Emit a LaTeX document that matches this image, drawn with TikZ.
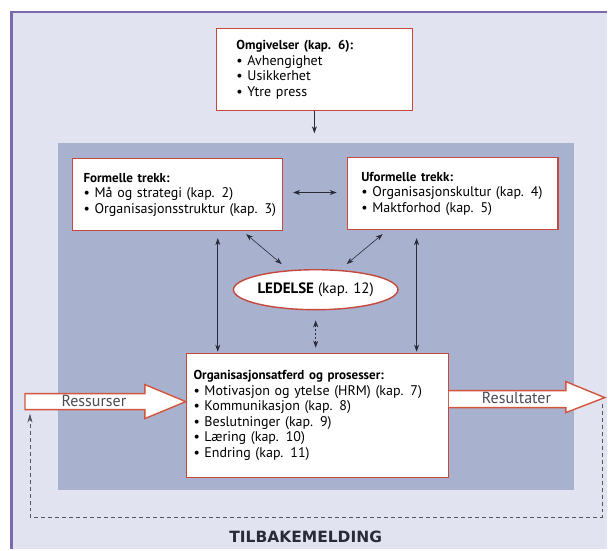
\documentclass[tikz,border=0pt]{standalone}
\usepackage{fontspec}
\setmainfont{PT Sans}
\newfontfamily\loopfont{DejaVu Sans}
\usetikzlibrary{arrows.meta,shapes.geometric,calc}

\definecolor{pagebg}{HTML}{E1E3F0}
\definecolor{panel}{HTML}{A8B1CE}
\definecolor{rim}{HTML}{7A69AC}
\definecolor{boxred}{HTML}{C4483C}
\definecolor{arrowred}{HTML}{D2553C}
\definecolor{ink}{HTML}{2B2B38}

% one bullet line and one heading line, kept on a single line each
\newcommand\bulletline[1]{\mbox{•\ #1}}
\newcommand\boxhead[1]{\mbox{\fontsize{13}{15.5}\selectfont\textbf{#1}}}

\begin{document}
\begin{tikzpicture}[x=1pt,y=-1pt,
  txt/.style={font=\fontsize{14}{15.5}\selectfont},
  box/.style={txt, draw=boxred, line width=1.4pt, fill=white, anchor=north west,
    align=left, inner ysep=0pt},
  link/.style={draw=ink, line width=0.6pt,
    {Stealth[length=7pt,width=5pt]}-{Stealth[length=7pt,width=5pt]}},
  onelink/.style={draw=ink, line width=0.6pt, -{Stealth[length=7pt,width=5pt]}},
  fatarrow/.style={draw=arrowred, line width=1.4pt, fill=white, line join=miter},
  arrowlabel/.style={font=\fontsize{16}{18}\selectfont, text=ink!85},
  feedback/.style={draw=ink!80, line width=0.6pt, dash pattern=on 4pt off 3pt,
    -{Stealth[length=9pt,width=5pt]}},
]
% page and panel
\fill[white] (0,0) rectangle (608,550);
\fill[pagebg] (11,12) rectangle (608,550);
\draw[rim, line width=1.2pt] (11,12) -- (608,12);
\draw[rim, line width=3pt] (11.5,11.4) -- (11.5,550);
\fill[panel] (58,143) rectangle (575,490);

% boxes
\node[box, minimum width=196pt, minimum height=82pt, inner xsep=20pt, text width=156pt]
  (omg) at (216,28)
  {\boxhead{Omgivelser (kap. 6):}\\ \bulletline{Avhengighet}\\ \bulletline{Usikkerhet}\\ \bulletline{Ytre press}};
\node[box, minimum width=210pt, minimum height=72pt, inner xsep=11pt, text width=188pt]
  (form) at (72,158)
  {\boxhead{Formelle trekk:}\\ \bulletline{Må og strategi (kap. 2)}\\ \bulletline{Organisasjonsstruktur (kap. 3)}};
\node[box, minimum width=211pt, minimum height=72pt, inner xsep=14pt, text width=183pt]
  (uform) at (347,157)
  {\boxhead{Uformelle trekk:}\\ \bulletline{Organisasjonskultur (kap. 4)}\\ \bulletline{Maktforhod (kap. 5)}};
\node[box, minimum width=262pt, minimum height=124pt, inner xsep=7pt, text width=248pt]
  (org) at (186,353)
  {\boxhead{Organisasjonsatferd og prosesser:}\\ \bulletline{Motivasjon og ytelse (HRM) (kap. 7)}\\
   \bulletline{Kommunikasjon (kap. 8)}\\ \bulletline{Beslutninger (kap. 9)}\\
   \bulletline{Læring (kap. 10)}\\ \bulletline{Endring (kap. 11)}};
\node[font=\fontsize{15}{17}\selectfont, ellipse, draw=boxred, line width=1.4pt, fill=white,
  minimum width=163pt, minimum height=40pt, inner sep=0pt] (led) at (316,290)
  {\textbf{LEDELSE} (kap. 12)};

% input and output arrows
\coordinate (intip) at ($(org.north west)+(0,49)$);
\draw[fatarrow] (intip) -- ++(-41,-17) -- ++(0,9) -- ++(-120,0) -- ++(0,16)
  -- ++(120,0) -- ++(0,9) -- cycle;
\node[arrowlabel] (inlab) at (94,401) {Ressurser};
\coordinate (outbase) at ($(org.north east)+(0,38)$);
\fill[white] (outbase) -- ++(117,0) -- ++(0,-9) -- ++(39,16) -- ++(-39,15) -- ++(0,-5)
  -- ++(-117,0) -- cycle;
\draw[fatarrow, fill=none] (outbase) -- ++(117,0) -- ++(0,-9) -- ++(39,16) -- ++(-39,15)
  -- ++(0,-5) -- ++(-117,0);
\node[arrowlabel] (outlab) at (517,398) {Resultater};

% connectors
\draw[onelink] (omg.south) -- ++(0,22);
\draw[link] ($(form.east)+(10,-2)$) -- ($(uform.west)+(-10,-1)$);
\draw[link] ($(form.south east)+(-37,3)$) -- ($(led.north)+(-34,-5)$);
\draw[link] ($(uform.south west)+(36,4)$) -- ($(led.north)+(31,-5)$);
\coordinate (vl) at (218,0);
\coordinate (vr) at (417,0);
\draw[link] ($(form.south -| vl)+(0,7)$) -- ($(org.north -| vl)+(0,-1)$);
\draw[link] ($(uform.south -| vr)+(0,8)$) -- ($(org.north -| vr)+(0,-1)$);
\draw[link, dash pattern=on 2pt off 2pt] ($(led.south)+(0,10)$) -- ($(led.south |- org.north)+(0,-5)$);

% feedback loop
\coordinate (fbstart) at (603,404);
\coordinate (fbend) at (30,414);
\draw[feedback] (fbstart) -- ++(0,114) -| (fbend);
\node[font=\loopfont\fontsize{15.5}{18}\selectfont\bfseries, text=ink] (fbtext) at (306,537) {TILBAKEMELDING};
\end{tikzpicture}
\end{document}
